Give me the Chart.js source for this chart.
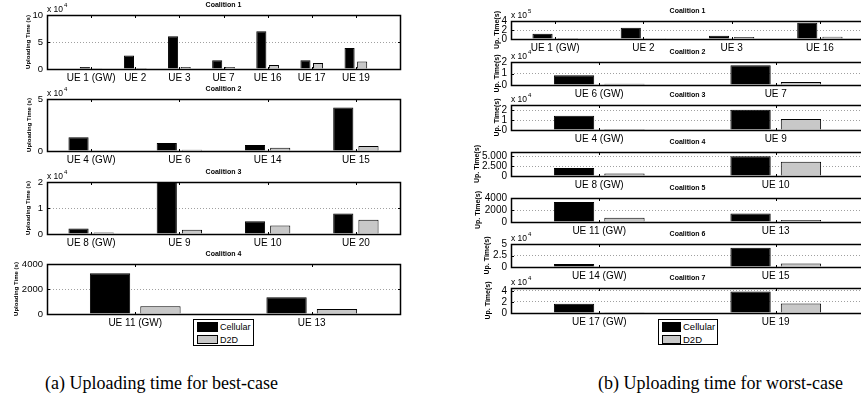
<!DOCTYPE html>
<html>
<head>
<meta charset="utf-8">
<script src="https://cdn.jsdelivr.net/npm/chart.js@4.4.1/dist/chart.umd.min.js"></script>
<style>
  html, body { margin: 0; padding: 0; background: #fff; overflow: hidden; }
  #fig { position: relative; width: 861px; height: 412px; overflow: hidden; background: #fff; }
  #fig canvas { position: absolute; }
  .legend { position: absolute; border: 1px solid #000; background: #fff; box-sizing: border-box;
            font-family: "Liberation Sans", Arial, sans-serif; color: #000; }
  .legend .sw { position: absolute; box-sizing: border-box; border: 1px solid #000; }
  .legend .lb { position: absolute; white-space: nowrap; line-height: 10px; }
  .caption { position: absolute; white-space: nowrap; font-family: "Liberation Serif", "Times New Roman", serif;
             font-size: 18px; line-height: 20px; color: #000; }
</style>
</head>
<body>
<div id="fig"></div>
<script>
// ---------------- data ----------------
const seriesNames = ['Cellular', 'D2D'];
const seriesColors = ['#000000', '#c8c8c8'];

// (a) best-case uploading time, seconds
const bestC1Users = ['UE 1 (GW)', 'UE 2', 'UE 3', 'UE 7', 'UE 16', 'UE 17', 'UE 19'];
const bestC1Cellular = [3500, 25000, 60700, 16200, 70100, 16200, 38800];
const bestC1D2D = [500, 1900, 3800, 3800, 7500, 11300, 13700];
const bestC1Ticks = [0, 50000, 100000];
const bestC1TickLabels = ['0', '5', '10'];

const bestC2Users = ['UE 4 (GW)', 'UE 6', 'UE 14', 'UE 15'];
const bestC2Cellular = [13300, 7600, 5700, 41800];
const bestC2D2D = [600, 1300, 3100, 4800];
const bestC2Ticks = [0, 50000];
const bestC2TickLabels = ['0', '5'];

const bestC3Users = ['UE 8 (GW)', 'UE 9', 'UE 10', 'UE 20'];
const bestC3Cellular = [2100, 20000, 4900, 7900];
const bestC3D2D = [600, 1600, 3300, 5500];
const bestC3Ticks = [0, 10000, 20000];
const bestC3TickLabels = ['0', '1', '2'];

const bestC4Users = ['UE 11 (GW)', 'UE 13'];
const bestC4Cellular = [3270, 1350];
const bestC4D2D = [620, 410];
const bestC4Ticks = [0, 2000, 4000];
const bestC4TickLabels = ['0', '2000', '4000'];

// (b) worst-case uploading time, seconds
const worstC1Users = ['UE 1 (GW)', 'UE 2', 'UE 3', 'UE 16'];
const worstC1Cellular = [118000, 251000, 73000, 360000];
const worstC1D2D = [2000, 5000, 44000, 51000];
const worstC1Ticks = [0, 200000, 400000];
const worstC1TickLabels = ['0', '2', '4'];

const worstC2Users = ['UE 6 (GW)', 'UE 7'];
const worstC2Cellular = [8500, 17100];
const worstC2D2D = [1000, 2600];
const worstC2Ticks = [0, 10000, 20000];
const worstC2TickLabels = ['0', '1', '2'];

const worstC3Users = ['UE 4 (GW)', 'UE 9'];
const worstC3Cellular = [14300, 20200];
const worstC3D2D = [1000, 11100];
const worstC3Ticks = [0, 10000, 20000];
const worstC3TickLabels = ['0', '1', '2'];

const worstC4Users = ['UE 8 (GW)', 'UE 10'];
const worstC4Cellular = [2000, 4950];
const worstC4D2D = [600, 3550];
const worstC4Ticks = [0, 2500, 5000];
const worstC4TickLabels = ['0', '2.500', '5.000'];

const worstC5Users = ['UE 11 (GW)', 'UE 13'];
const worstC5Cellular = [3330, 1430];
const worstC5D2D = [720, 330];
const worstC5Ticks = [0, 2000, 4000];
const worstC5TickLabels = ['0', '2000', '4000'];

const worstC6Users = ['UE 14 (GW)', 'UE 15'];
const worstC6Cellular = [6400, 42000];
const worstC6D2D = [1200, 7700];
const worstC6Ticks = [0, 25000, 50000];
const worstC6TickLabels = ['0', '2.5', '5'];

const worstC7Users = ['UE 17 (GW)', 'UE 19'];
const worstC7Cellular = [16600, 38600];
const worstC7D2D = [500, 17100];
const worstC7Ticks = [0, 20000, 40000];
const worstC7TickLabels = ['0', '2', '4'];

// ---------------- layout of the panels ----------------
const FONT = '"Liberation Sans", Arial, Helvetica, sans-serif';
const sideStyle = {
  a: { left: 47, right: 400, tickFont: 9.5, xFont: 10, yTitle: 'Uploading Time (s)', yTitleFont: 6 },
  b: { left: 511, right: 864, tickFont: 10, xFont: 10, yTitle: 'Up. Time(s)', yTitleFont: 7 }
};

const panels = [
  { side: 'a', top: 15, bottom: 69, title: 'Coalition 1', users: bestC1Users, cell: bestC1Cellular, d2d: bestC1D2D, ticks: bestC1Ticks, tickLabels: bestC1TickLabels, max: 100000, exp: 4, yGap: 19, edgeSlots: true },
  { side: 'a', top: 99, bottom: 151, title: 'Coalition 2', users: bestC2Users, cell: bestC2Cellular, d2d: bestC2D2D, ticks: bestC2Ticks, tickLabels: bestC2TickLabels, max: 50000, exp: 4, yGap: 18 },
  { side: 'a', top: 182, bottom: 234, title: 'Coalition 3', users: bestC3Users, cell: bestC3Cellular, d2d: bestC3D2D, ticks: bestC3Ticks, tickLabels: bestC3TickLabels, max: 20000, exp: 4, yGap: 19 },
  { side: 'a', top: 264, bottom: 314, title: 'Coalition 4', users: bestC4Users, cell: bestC4Cellular, d2d: bestC4D2D, ticks: bestC4Ticks, tickLabels: bestC4TickLabels, max: 4000, exp: 0, yGap: 31 },

  { side: 'b', top: 21, bottom: 39, title: 'Coalition 1', users: worstC1Users, cell: worstC1Cellular, d2d: worstC1D2D, ticks: worstC1Ticks, tickLabels: worstC1TickLabels, max: 400000, exp: 5, yGap: 14 },
  { side: 'b', top: 62, bottom: 85, title: 'Coalition 2', users: worstC2Users, cell: worstC2Cellular, d2d: worstC2D2D, ticks: worstC2Ticks, tickLabels: worstC2TickLabels, max: 20000, exp: 4, yGap: 14 },
  { side: 'b', top: 105, bottom: 130, title: 'Coalition 3', users: worstC3Users, cell: worstC3Cellular, d2d: worstC3D2D, ticks: worstC3Ticks, tickLabels: worstC3TickLabels, max: 25000, exp: 4, yGap: 14 },
  { side: 'b', top: 152, bottom: 176, title: 'Coalition 4', users: worstC4Users, cell: worstC4Cellular, d2d: worstC4D2D, ticks: worstC4Ticks, tickLabels: worstC4TickLabels, max: 6000, exp: 0, yGap: 34 },
  { side: 'b', top: 198, bottom: 222, title: 'Coalition 5', users: worstC5Users, cell: worstC5Cellular, d2d: worstC5D2D, ticks: worstC5Ticks, tickLabels: worstC5TickLabels, max: 4000, exp: 0, yGap: 33 },
  { side: 'b', top: 244, bottom: 267, title: 'Coalition 6', users: worstC6Users, cell: worstC6Cellular, d2d: worstC6D2D, ticks: worstC6Ticks, tickLabels: worstC6TickLabels, max: 50000, exp: 4, yGap: 24 },
  { side: 'b', top: 288, bottom: 313, title: 'Coalition 7', users: worstC7Users, cell: worstC7Cellular, d2d: worstC7D2D, ticks: worstC7Ticks, tickLabels: worstC7TickLabels, max: 45000, exp: 4, yGap: 23 }
];

// box, inward tick marks, titles and the axis multiplier of each small axes
const axesDecor = {
  id: 'axesDecor',
  afterDraw(chart, args, o) {
    const { ctx, chartArea: a, scales: { x, y } } = chart;
    const L = Math.round(a.left) + 0.5, R = Math.round(a.right) + 0.5;
    const T = Math.round(a.top) + 0.5, B = Math.round(a.bottom) + 0.5;
    const tl = 2.5;
    ctx.save();
    ctx.strokeStyle = '#000';
    ctx.lineWidth = 1;
    ctx.beginPath();
    x.ticks.forEach((t, i) => {
      if (!x.getLabelForValue(t.value)) return;
      const px = Math.round(x.getPixelForTick(i)) + 0.5;
      ctx.moveTo(px, T); ctx.lineTo(px, T + tl);
      ctx.moveTo(px, B); ctx.lineTo(px, B - tl);
    });
    y.ticks.forEach(t => {
      const py = Math.round(y.getPixelForValue(t.value)) + 0.5;
      ctx.moveTo(L, py); ctx.lineTo(L + tl, py);
      ctx.moveTo(R, py); ctx.lineTo(R - tl, py);
    });
    ctx.stroke();
    ctx.lineWidth = 1.5;
    ctx.strokeRect(L, T, R - L, B - T);

    ctx.fillStyle = '#000';
    ctx.textBaseline = 'middle';
    ctx.textAlign = 'center';
    ctx.font = 'bold 7px ' + FONT;
    ctx.fillText(o.title, (a.left + a.right) / 2, a.top - 9.5);

    ctx.save();
    ctx.translate(a.left - o.yGap, (a.top + a.bottom) / 2);
    ctx.rotate(-Math.PI / 2);
    ctx.font = 'bold ' + o.yTitleFont + 'px ' + FONT;
    ctx.fillText(o.yTitle, 0, 0);
    ctx.restore();

    if (o.exp) {
      ctx.textAlign = 'left';
      ctx.font = '8.5px ' + FONT;
      const base = 'x 10';
      ctx.fillText(base, a.left, a.top - 5);
      const w = ctx.measureText(base).width;
      ctx.font = '6px ' + FONT;
      ctx.fillText(String(o.exp), a.left + w + 1, a.top - 10);
    }
    ctx.restore();
  }
};

const fig = document.getElementById('fig');
const PAD_T = 22, PAD_B = 18, PAD_R = 6;

panels.forEach(p => {
  const s = sideStyle[p.side];
  const padL = p.side === 'a' ? s.left : 45;
  const cw = s.right - s.left + padL + PAD_R;
  const ch = p.bottom - p.top + PAD_T + PAD_B;
  const cv = document.createElement('canvas');
  cv.width = cw; cv.height = ch;
  cv.style.width = cw + 'px'; cv.style.height = ch + 'px';
  cv.style.left = (s.left - padL) + 'px';
  cv.style.top = (p.top - PAD_T) + 'px';
  fig.appendChild(cv);

  // the first best-case coalition leaves one empty slot at each end of its axis
  const labels = p.edgeSlots ? [''].concat(p.users, ['']) : p.users;
  const wrap = arr => p.edgeSlots ? [null].concat(arr, [null]) : arr;

  new Chart(cv, {
    type: 'bar',
    data: {
      labels: labels,
      datasets: [
        { label: seriesNames[0], data: wrap(p.cell), backgroundColor: seriesColors[0], borderColor: '#000', borderWidth: 1,
          categoryPercentage: 0.571, barPercentage: 0.8 },
        { label: seriesNames[1], data: wrap(p.d2d), backgroundColor: seriesColors[1], borderColor: '#000', borderWidth: 1,
          categoryPercentage: 0.571, barPercentage: 0.8 }
      ]
    },
    options: {
      responsive: false,
      devicePixelRatio: 1,
      animation: false,
      events: [],
      layout: { padding: { top: PAD_T, right: PAD_R, left: 0, bottom: 0 } },
      plugins: {
        legend: { display: false },
        tooltip: { enabled: false },
        axesDecor: { title: p.title, yTitle: s.yTitle, yTitleFont: s.yTitleFont, yGap: p.yGap, exp: p.exp }
      },
      scales: {
        x: {
          type: 'category',
          offset: !p.edgeSlots,
          grid: { display: false, drawTicks: false },
          border: { display: false },
          ticks: { autoSkip: false, maxRotation: 0, minRotation: 0, padding: 3, color: '#000',
                   font: { family: FONT, size: s.xFont } },
          afterFit: sc => { sc.height = PAD_B; }
        },
        y: {
          min: 0, max: p.max,
          grid: { color: '#a0a0a0', lineWidth: 1, drawTicks: false },
          border: { display: false, dash: [1, 2] },
          ticks: { autoSkip: false, padding: 4, color: '#000', font: { family: FONT, size: s.tickFont },
                   callback: (v, i) => p.tickLabels[i] },
          afterBuildTicks: sc => { sc.ticks = p.ticks.map(v => ({ value: v })); },
          afterFit: sc => { sc.width = padL; }
        }
      }
    },
    plugins: [axesDecor]
  });
});

// legends under the two bottom axes
function addLegend(left, top, w, h, sw, fs) {
  const box = document.createElement('div');
  box.className = 'legend';
  box.style.left = left + 'px'; box.style.top = top + 'px';
  box.style.width = w + 'px'; box.style.height = h + 'px';
  seriesNames.forEach((name, i) => {
    const r = document.createElement('div');
    r.className = 'sw';
    r.style.left = '3px'; r.style.top = (2 + i * 12.5) + 'px';
    r.style.width = sw + 'px'; r.style.height = '9.5px';
    r.style.background = seriesColors[i];
    box.appendChild(r);
    const t = document.createElement('div');
    t.className = 'lb';
    t.textContent = name;
    t.style.left = (sw + 5) + 'px'; t.style.top = (2 + i * 12.5) + 'px';
    t.style.fontSize = fs + 'px';
    box.appendChild(t);
  });
  fig.appendChild(box);
}
addLegend(193, 319, 61, 27, 21, 9);
addLegend(658, 319, 60, 26, 19, 9.5);

function addCaption(left, top, text) {
  const c = document.createElement('div');
  c.className = 'caption';
  c.style.left = left + 'px'; c.style.top = top + 'px';
  c.textContent = text;
  fig.appendChild(c);
}
addCaption(45, 373, '(a) Uploading time for best-case');
addCaption(598, 373, '(b) Uploading time for worst-case');
</script>
</body>
</html>
